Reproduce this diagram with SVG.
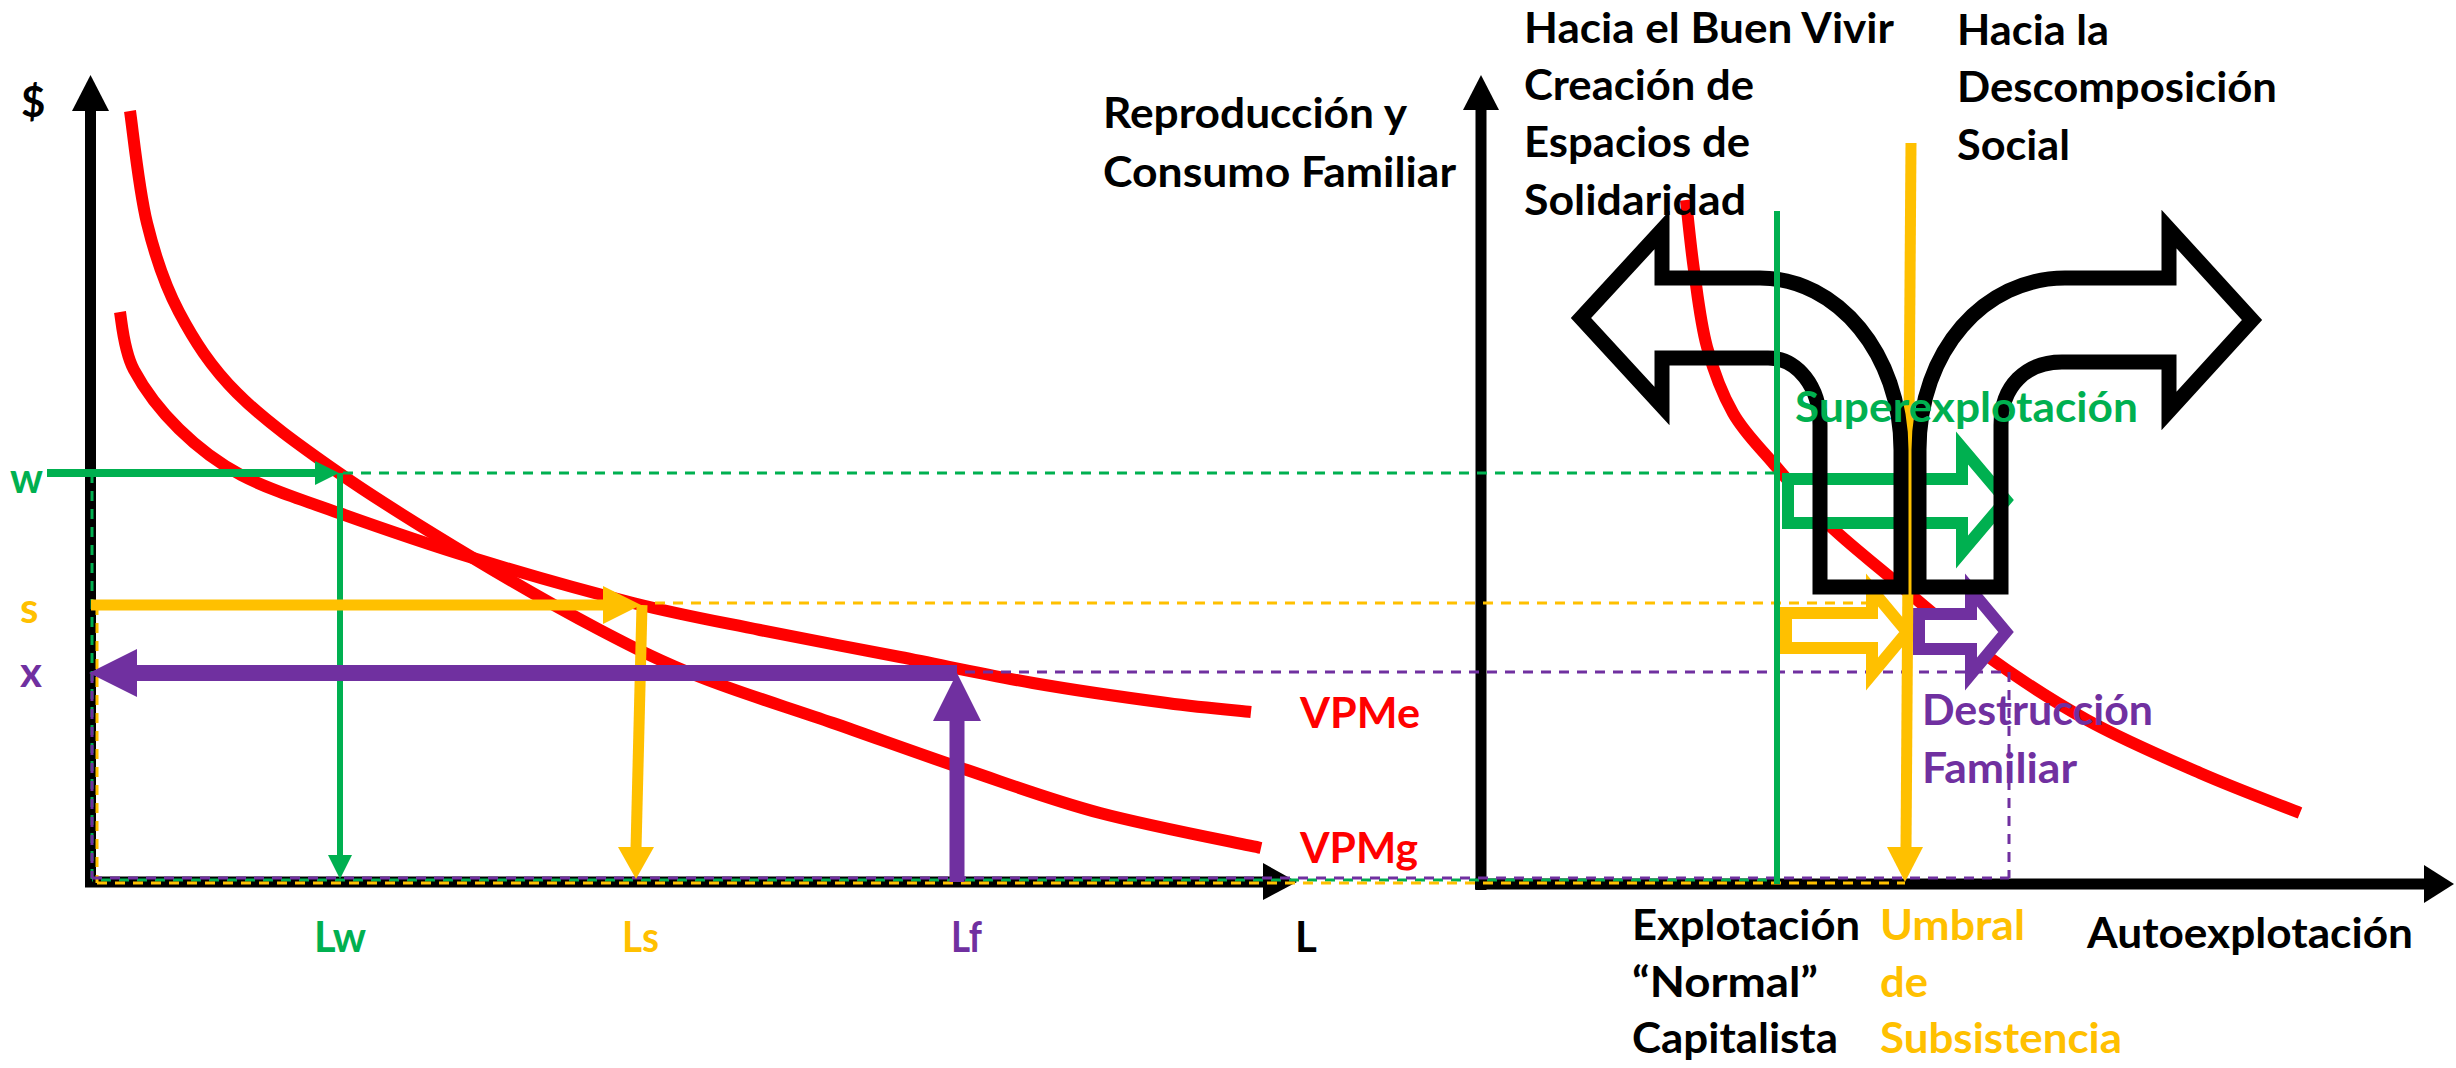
<svg xmlns="http://www.w3.org/2000/svg" width="2456" height="1068" viewBox="0 0 2456 1068">
<style>
.t{font-family:Lato,"Liberation Sans",Arial,sans-serif;font-weight:700;font-size:42px}
.k{fill:#000}.g{fill:#00B050}.y{fill:#FFC000}.p{fill:#7030A0}.r{fill:#FF0000}
.curve{fill:none;stroke:#FF0000;stroke-width:12;stroke-linecap:butt}
.dg{fill:none;stroke:#00B050;stroke-width:3;stroke-dasharray:10 8}
.dy{fill:none;stroke:#FFC000;stroke-width:3;stroke-dasharray:10 8}
.dp{fill:none;stroke:#7030A0;stroke-width:3;stroke-dasharray:10 8}
.ax{fill:none;stroke:#000;stroke-width:11}
.hollow{fill:#fff;stroke-width:12;stroke-linejoin:miter;stroke-miterlimit:10}
</style>
<rect width="2456" height="1068" fill="#fff"/>

<g id="curves">
<path id="vpmg-curve" class="curve" d="M130,111 C132.8,129.7 138.8,189.5 147,223 C155.2,256.5 164,283.7 179,312 C194,340.3 210.3,366.2 237,393 C263.7,419.8 299.7,445.5 339,473 C378.3,500.5 429.5,531.8 473,558 C516.5,584.2 562.2,610.2 600,630 C637.8,649.8 661.2,661.5 700,677 C738.8,692.5 788.5,707.5 833,723 C877.5,738.5 922.5,755 967,770 C1011.5,785 1051,800 1100,813 C1149,826 1234.2,842.2 1261,848"/>
<path id="vpme-curve" class="curve" d="M120,312 C121.8,322.5 123.7,350.7 134,370 C144.3,389.3 161.2,411.5 179,429 C196.8,446.5 214.3,461 241,475 C267.7,489 300.3,499.2 339,513 C377.7,526.8 424,543 473,558 C522,573 585.2,591 633,603 C680.8,615 715.5,621 760,630 C804.5,639 854.5,648.2 900,657 C945.5,665.8 988.5,675.3 1033,683 C1077.5,690.7 1130.7,698.2 1167,703 C1203.3,707.8 1237,710.5 1251,712"/>
<path id="right-curve" class="curve" stroke-width="11" d="M1686,200 C1687.3,211.7 1690.5,245.5 1694,270 C1697.5,294.5 1700.5,323.2 1707,347 C1713.5,370.8 1722,393.7 1733,413 C1744,432.3 1757.3,444.7 1773,463 C1788.7,481.3 1807.5,504 1827,523 C1846.5,542 1864,555.3 1890,577 C1916,598.7 1950.2,629.2 1983,653 C2015.8,676.8 2050.8,700 2087,720 C2123.2,740 2164.5,757.5 2200,773 C2235.5,788.5 2283.3,806.3 2300,813"/>
</g>

<g id="axes">
<line class="ax" x1="90.5" y1="108" x2="90.5" y2="887"/>
<polygon points="90.5,75 72,111 109,111"/>
<line class="ax" x1="85" y1="882" x2="1266" y2="882"/>
<polygon points="1297,882 1263,863 1263,900"/>
<line class="ax" stroke-width="12" x1="1481" y1="108" x2="1481" y2="890"/>
<polygon points="1481,75 1463,110 1499,110"/>
<line class="ax" stroke-width="12" x1="1475" y1="884" x2="2426" y2="884"/>
<polygon points="2454,884 2424,865 2424,903"/>
</g>

<g id="guides">
<path class="dg" d="M343,473 H1777"/>
<path class="dg" d="M92,473 V880"/>
<path class="dg" stroke-dashoffset="9" d="M92,880 H1777"/>
<path class="dy" d="M655,603 H1870"/>
<path class="dy" d="M97,605 V883"/>
<path class="dy" d="M97,883 H1905"/>
<path class="dp" d="M965,672 H2009 V878"/>
<path class="dp" d="M92,673 V878"/>
<path class="dp" d="M92,878 H2009"/>
</g>

<g id="connectors">
<g id="arrow-w">
<line x1="47" y1="473" x2="318" y2="473" stroke="#00B050" stroke-width="8"/>
<polygon class="g" points="315,461 339,473 315,485"/>
</g>
<g id="arrow-lw">
<line x1="340" y1="473" x2="340" y2="857" stroke="#00B050" stroke-width="6"/>
<polygon class="g" points="328,855 352,855 340,879"/>
</g>
<g id="arrow-s">
<line x1="91" y1="605" x2="606" y2="605" stroke="#FFC000" stroke-width="11"/>
<polygon class="y" points="603,586 641,605 603,624"/>
</g>
<g id="arrow-ls">
<line x1="642" y1="605" x2="636" y2="849" stroke="#FFC000" stroke-width="11"/>
<polygon class="y" points="618,847 654,847 636,879"/>
</g>
<g id="arrow-x">
<line x1="957" y1="673" x2="134" y2="673" stroke="#7030A0" stroke-width="16"/>
<polygon class="p" points="137,649 89,673 137,697"/>
</g>
<g id="arrow-lf">
<line x1="957" y1="882" x2="957" y2="719" stroke="#7030A0" stroke-width="15"/>
<polygon class="p" points="933,721 981,721 957,673"/>
</g>
<path id="hollow-green" class="hollow" stroke="#00B050" d="M1788,479 L1962,479 L1962,448 L2006,500 L1962,552 L1962,523 L1788,523 Z"/>
<path id="hollow-yellow" class="hollow" stroke="#FFC000" d="M1786,613 L1872,613 L1872,590 L1907,632 L1872,674 L1872,648 L1786,648 Z"/>
<path id="hollow-purple" class="hollow" stroke="#7030A0" d="M1919,614 L1971,614 L1971,590 L2006,632 L1971,674 L1971,649 L1919,649 Z"/>
<g id="arrow-umbral">
<line x1="1911" y1="143" x2="1906" y2="849" stroke="#FFC000" stroke-width="11"/>
<polygon class="y" points="1887,847 1923,847 1905,882"/>
</g>
<g id="split-arrow" fill="none" stroke="#000" stroke-width="15" stroke-linejoin="miter" stroke-miterlimit="10">
<path d="M1662,278 L1662,230 L1581,318 L1662,406 L1662,358 L1768,358 C1797,358 1820,386 1820,425 L1820,587 L1901,587 L1901,450 C1901,355 1838,278 1760,278 Z"/>
<path d="M2169,278 L2169,229 L2252,320 L2169,411 L2169,362 L2062,362 C2026,362 2001,386 2001,425 L2001,587 L1919,587 L1919,450 C1919,350 1985,278 2065,278 Z"/>
</g>
<line id="line-normal" x1="1777" y1="211" x2="1777" y2="884" stroke="#00B050" stroke-width="6"/>
</g>

<g id="labels">
<text id="lbl-dollar" class="t k" x="21" y="117" font-size="44">$</text>
<text id="lbl-w" class="t g" x="10" y="493" textLength="33" lengthAdjust="spacingAndGlyphs" font-size="46">w</text>
<text id="lbl-s" class="t y" x="20" y="623" font-size="46">s</text>
<text id="lbl-x" class="t p" x="20" y="687" font-size="46">x</text>
<text id="lbl-lw" class="t g" x="314" y="952" textLength="52" lengthAdjust="spacingAndGlyphs">Lw</text>
<text id="lbl-ls" class="t y" x="622" y="952" textLength="37" lengthAdjust="spacingAndGlyphs">Ls</text>
<text id="lbl-lf" class="t p" x="951" y="952" textLength="31" lengthAdjust="spacingAndGlyphs">Lf</text>
<text id="lbl-l" class="t k" x="1295" y="952">L</text>
<text id="lbl-vpme" class="t r" x="1300" y="728" textLength="120" lengthAdjust="spacingAndGlyphs">VPMe</text>
<text id="lbl-vpmg" class="t r" x="1300" y="863" textLength="118" lengthAdjust="spacingAndGlyphs">VPMg</text>
<g id="lbl-reproduccion" class="t k">
<text x="1103" y="128" textLength="304" lengthAdjust="spacingAndGlyphs">Reproducción y</text>
<text x="1103" y="187" textLength="353" lengthAdjust="spacingAndGlyphs">Consumo Familiar</text>
</g>
<g id="lbl-buen-vivir" class="t k">
<text x="1524" y="43" textLength="370" lengthAdjust="spacingAndGlyphs">Hacia el Buen Vivir</text>
<text x="1524" y="100" textLength="230" lengthAdjust="spacingAndGlyphs">Creación de</text>
<text x="1524" y="157" textLength="226" lengthAdjust="spacingAndGlyphs">Espacios de</text>
<text x="1524" y="215" textLength="222" lengthAdjust="spacingAndGlyphs">Solidaridad</text>
</g>
<g id="lbl-descomposicion" class="t k">
<text x="1957" y="45" textLength="152" lengthAdjust="spacingAndGlyphs">Hacia la</text>
<text x="1957" y="102" textLength="320" lengthAdjust="spacingAndGlyphs">Descomposición</text>
<text x="1957" y="160" textLength="113" lengthAdjust="spacingAndGlyphs">Social</text>
</g>
<text id="lbl-super" class="t g" x="1795" y="422" textLength="343" lengthAdjust="spacingAndGlyphs">Superexplotación</text>
<g id="lbl-destruccion" class="t p">
<text x="1922" y="725" textLength="231" lengthAdjust="spacingAndGlyphs">Destrucción</text>
<text x="1922" y="783" textLength="155" lengthAdjust="spacingAndGlyphs">Familiar</text>
</g>
<g id="lbl-explotacion" class="t k">
<text x="1632" y="940" textLength="228" lengthAdjust="spacingAndGlyphs">Explotación</text>
<text x="1632" y="997" textLength="186" lengthAdjust="spacingAndGlyphs">“Normal”</text>
<text x="1632" y="1053" textLength="206" lengthAdjust="spacingAndGlyphs">Capitalista</text>
</g>
<g id="lbl-umbral" class="t y">
<text x="1880" y="940" textLength="145" lengthAdjust="spacingAndGlyphs">Umbral</text>
<text x="1880" y="997" textLength="48" lengthAdjust="spacingAndGlyphs">de</text>
<text x="1880" y="1053" textLength="242" lengthAdjust="spacingAndGlyphs">Subsistencia</text>
</g>
<text id="lbl-auto" class="t k" x="2087" y="948" textLength="326" lengthAdjust="spacingAndGlyphs">Autoexplotación</text>
</g>
</svg>
